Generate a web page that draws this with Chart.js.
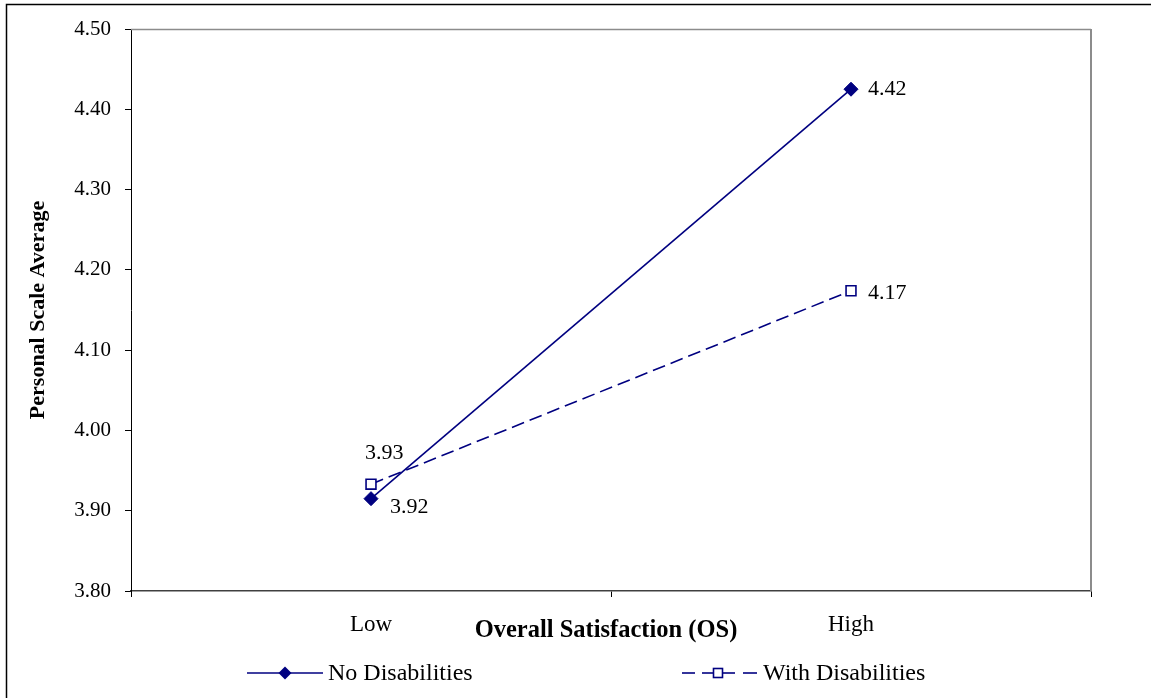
<!DOCTYPE html>
<html>
<head>
<meta charset="utf-8">
<script src="https://cdn.jsdelivr.net/npm/chart.js@4.4.1/dist/chart.umd.min.js"></script>
<style>
  html, body { margin: 0; padding: 0; background: #fff; }
  #wrap { position: relative; width: 1151px; height: 698px; }
  canvas { display: block; }
</style>
</head>
<body>
<div id="wrap"><canvas id="c" width="1151" height="698"></canvas></div>
<script>
const categories = ['Low', 'High'];
const noDisabilities = [3.915, 4.425];
const withDisabilities = [3.933, 4.174];
const noDisLabels = ['3.92', '4.42'];
const withDisLabels = ['3.93', '4.17'];
const xTitle = 'Overall Satisfaction (OS)';
const yTitle = 'Personal Scale Average';
const yMin = 3.80, yMax = 4.50, yStep = 0.10;

const NAVY = '#000080';
const SERIF = '"Liberation Serif", "Times New Roman", serif';

const frameAndLabels = {
  id: 'frameAndLabels',
  beforeDraw(chart) {
    const ctx = chart.ctx;
    ctx.save();
    ctx.fillStyle = '#fff';
    ctx.fillRect(0, 0, chart.width, chart.height);
    ctx.strokeStyle = '#000';
    ctx.lineWidth = 1.5;
    ctx.beginPath();
    ctx.moveTo(6.5, 700);
    ctx.lineTo(6.5, 4.5);
    ctx.lineTo(1160, 4.5);
    ctx.stroke();
    ctx.restore();
  },
  afterDatasetsDraw(chart, args, opts) {
    const ctx = chart.ctx;
    const a = chart.chartArea;
    ctx.save();
    ctx.strokeStyle = '#8c8c8c';
    ctx.lineWidth = 1.5;
    ctx.beginPath();
    ctx.moveTo(a.left, a.top + 0.5);
    ctx.lineTo(a.right, a.top + 0.5);
    ctx.stroke();
    ctx.lineWidth = 2;
    ctx.beginPath();
    ctx.moveTo(a.right, a.top);
    ctx.lineTo(a.right, a.bottom);
    ctx.stroke();

    // data labels
    ctx.fillStyle = '#000';
    ctx.font = '22px ' + SERIF;
    ctx.textAlign = 'left';
    ctx.textBaseline = 'middle';
    const sets = [noDisLabels, withDisLabels];
    chart.data.datasets.forEach((ds, di) => {
      const meta = chart.getDatasetMeta(di);
      meta.data.forEach((pt, i) => {
        const off = opts.offsets[di][i];
        ctx.fillText(sets[di][i], pt.x + off[0], pt.y + off[1]);
      });
    });

    // x axis title
    ctx.font = 'bold 24.5px ' + SERIF;
    ctx.textAlign = 'center';
    ctx.fillText(xTitle, 606, 631);

    // legend
    const ly = 673;
    ctx.textAlign = 'left';
    ctx.strokeStyle = NAVY;
    ctx.lineWidth = 1.6;
    ctx.beginPath(); ctx.moveTo(247, ly); ctx.lineTo(323, ly); ctx.stroke();
    ctx.fillStyle = NAVY;
    ctx.beginPath();
    ctx.moveTo(285, ly - 6.5); ctx.lineTo(291.5, ly); ctx.lineTo(285, ly + 6.5); ctx.lineTo(278.5, ly);
    ctx.closePath(); ctx.fill();
    ctx.fillStyle = '#000';
    ctx.font = '24px ' + SERIF;
    ctx.fillText(chart.data.datasets[0].label, 328, ly + 1);

    ctx.strokeStyle = NAVY;
    ctx.lineWidth = 1.6;
    ctx.beginPath(); ctx.moveTo(682, ly); ctx.lineTo(695, ly); ctx.stroke();
    ctx.beginPath(); ctx.moveTo(702, ly); ctx.lineTo(714, ly); ctx.stroke();
    ctx.beginPath(); ctx.moveTo(722, ly); ctx.lineTo(735, ly); ctx.stroke();
    ctx.beginPath(); ctx.moveTo(743, ly); ctx.lineTo(757, ly); ctx.stroke();
    ctx.fillStyle = '#fff';
    ctx.fillRect(713.5, ly - 4.5, 9, 9);
    ctx.strokeRect(713.5, ly - 4.5, 9, 9);
    ctx.fillStyle = '#000';
    ctx.fillText(chart.data.datasets[1].label, 763, ly + 1);
    ctx.restore();
  }
};

new Chart(document.getElementById('c'), {
  type: 'line',
  data: {
    labels: categories,
    datasets: [
      {
        label: 'No Disabilities',
        data: noDisabilities,
        borderColor: NAVY,
        backgroundColor: NAVY,
        borderWidth: 1.6,
        pointStyle: 'rectRot',
        pointRadius: 7,
        pointBackgroundColor: NAVY,
        pointBorderColor: NAVY,
        pointBorderWidth: 1,
        tension: 0
      },
      {
        label: 'With Disabilities',
        data: withDisabilities,
        borderColor: NAVY,
        backgroundColor: '#fff',
        borderWidth: 1.6,
        borderDash: [13, 6],
        pointStyle: 'rect',
        pointRadius: 7,
        pointBackgroundColor: '#fff',
        pointBorderColor: NAVY,
        pointBorderWidth: 1.6,
        tension: 0
      }
    ]
  },
  options: {
    responsive: false,
    animation: false,
    devicePixelRatio: 1,
    layout: { padding: { left: 0, right: 60, top: 29, bottom: 0 } },
    plugins: {
      legend: { display: false },
      tooltip: { enabled: false },
      frameAndLabels: {
        offsets: [
          [[19, 9], [17, 0]],
          [[-6, -31], [17, 2]]
        ]
      }
    },
    scales: {
      x: {
        offset: true,
        grid: { offset: true, drawOnChartArea: false, drawTicks: true, tickLength: 6, color: '#000', lineWidth: 1 },
        border: { display: true, color: '#404040', width: 1.5 },
        ticks: { color: '#000', font: { family: SERIF, size: 23 }, padding: 14 },
        title: { display: false },
        afterFit(scale) { scale.height = 107; }
      },
      y: {
        min: yMin, max: yMax,
        grid: { drawOnChartArea: false, drawTicks: true, tickLength: 6, color: '#000', lineWidth: 1 },
        border: { display: true, color: '#000', width: 1 },
        ticks: { stepSize: yStep, color: '#000', font: { family: SERIF, size: 21 }, padding: 14,
                 callback: (v) => Number(v).toFixed(2) },
        title: { display: true, text: yTitle, color: '#000',
                 font: { family: SERIF, size: 22, weight: 'bold' }, padding: { top: 25, bottom: 0 } },
        afterFit(scale) { scale.width = 131; }
      }
    }
  },
  plugins: [frameAndLabels]
});
</script>
</body>
</html>
